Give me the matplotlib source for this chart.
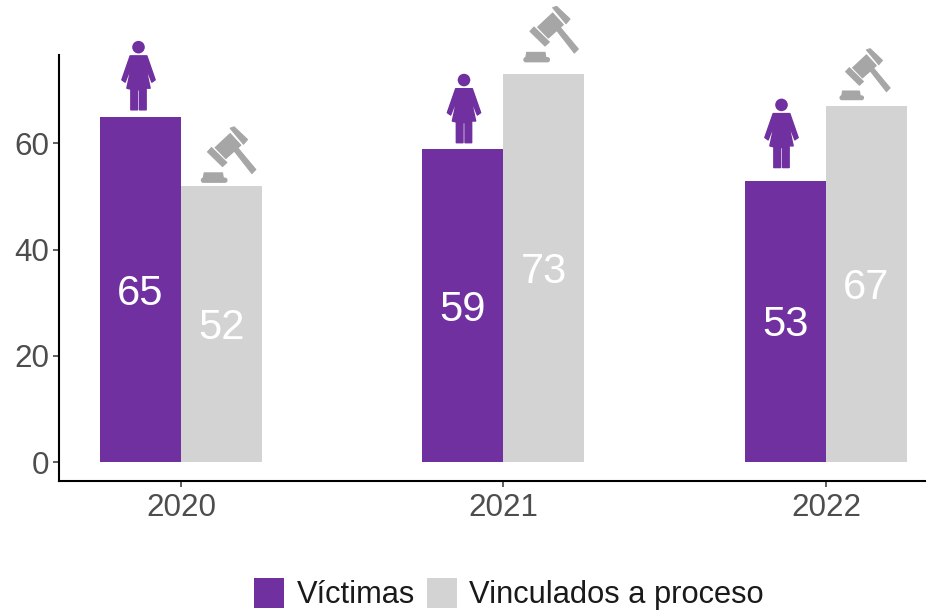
import matplotlib
matplotlib.use("Agg")
import matplotlib.pyplot as plt
from matplotlib.patches import Polygon, Circle, FancyBboxPatch, Patch
from matplotlib.transforms import Affine2D

plt.rcParams["font.family"] = ["Liberation Sans", "DejaVu Sans"]

years = [2020, 2021, 2022]
victimas = [65, 59, 53]
vinculados = [52, 73, 67]

MORADO = "#7030A0"
GRIS = "#D3D3D3"
GRIS_ICONO = "#A6A6A6"
TEXTO = "#4D4D4D"

W, H = 939, 610
fig = plt.figure(figsize=(W / 100, H / 100), dpi=100)
ax = fig.add_axes([59 / W, 1 - 481 / H, (925 - 59) / W, (481 - 55) / H])

px_x = 322.5   # pixeles por anio
px_y = 5.31    # pixeles por unidad
ancho = 81 / px_x

ax.bar([y - ancho / 2 for y in years], victimas, ancho, color=MORADO)
ax.bar([y + ancho / 2 for y in years], vinculados, ancho, color=GRIS)

ax.set_xlim(2020 - 122 / px_x, 2020 + (925 - 181) / px_x)
ax.set_ylim(-19 / px_y, 407 / px_y)

for y, a, b in zip(years, victimas, vinculados):
    ax.annotate(str(a), (y - ancho / 2, a / 2), xytext=(0, -3), textcoords="offset points",
                color="white", fontsize=30, ha="center", va="center")
    ax.annotate(str(b), (y + ancho / 2, b / 2), xytext=(0, -3), textcoords="offset points",
                color="white", fontsize=30, ha="center", va="center")


def icono_tr(x, v, dx, dy, esc=1.0):
    # coordenadas del icono en pixeles, ancladas a la parte alta de la barra
    return (Affine2D().scale(esc, esc).translate(dx, dy)
            .scale(1 / px_x, 1 / px_y).translate(x, v) + ax.transData)


def mujer(x, v, dx, dy):
    tr = icono_tr(x, v, dx, dy)
    cuerpo = [(120, 78), (170, 78), (195, 150), (185, 157), (165, 105), (180, 175),
              (168, 175), (168, 240), (148, 240), (148, 180), (142, 180), (142, 240),
              (122, 240), (122, 178), (110, 175), (125, 105), (105, 157), (95, 150)]
    pts = [((zx - 145) / 3, (240 - zy) / 3) for zx, zy in cuerpo]
    ax.add_patch(Polygon(pts, closed=True, fc=MORADO, ec=MORADO, lw=1, joinstyle="round",
                         transform=tr, clip_on=False))
    ax.add_patch(Circle((0, (240 - 52) / 3), 6.3, fc=MORADO, ec="none", transform=tr, clip_on=False))


def mazo(x, v, dx, dy, esc=1.0):
    tr = icono_tr(x, v, dx, dy, esc)
    conv = lambda p: [((zx - 392) / 3, (458 - zy) / 3) for zx, zy in p]
    partes = [
        [(430, 362), (440, 352), (495, 418), (483, 430)],   # mango
        [(373, 352), (418, 310), (450, 345), (405, 385)],   # cabeza
        [(350, 365), (362, 352), (408, 397), (395, 409)],
        [(418, 294), (430, 290), (470, 328), (458, 342)],
        [(340, 428), (395, 428), (398, 446), (337, 446)],   # base
    ]
    for p in partes:
        ax.add_patch(Polygon(conv(p), closed=True, fc=GRIS_ICONO, ec=GRIS_ICONO, lw=0.8,
                             joinstyle="round", transform=tr, clip_on=False))
    base = conv([(330, 458)])[0]
    ax.add_patch(FancyBboxPatch(base, 80 / 3, 16 / 3, boxstyle="round,pad=0,rounding_size=2.5",
                                fc=GRIS_ICONO, ec="none", transform=tr, clip_on=False, mutation_aspect=1))


mujer(years[0] - ancho / 2, victimas[0], -2, 7)
mujer(years[1] - ancho / 2, victimas[1], 1, 6)
mujer(years[2] - ancho / 2, victimas[2], -4, 13)
mazo(years[0] + ancho / 2, vinculados[0], 0, 3)
mazo(years[1] + ancho / 2, vinculados[1], 0, 12)
mazo(years[2] + ancho / 2, vinculados[2], -8, 6, 0.92)

ax.spines["top"].set_visible(False)
ax.spines["right"].set_visible(False)
ax.spines["left"].set_linewidth(1.5)
ax.spines["bottom"].set_linewidth(1.5)
ax.set_xticks(years)
ax.set_xticklabels([str(y) for y in years])
ax.set_yticks([0, 20, 40, 60])
ax.tick_params(axis="x", labelsize=22.6, labelcolor=TEXTO, color="#333333", length=4, width=1.1, pad=5)
ax.tick_params(axis="y", labelsize=22.6, labelcolor=TEXTO, color="#333333", length=4, width=1.1, pad=3)

handles = [Patch(fc=MORADO, label="Víctimas"), Patch(fc=GRIS, label="Vinculados a proceso")]
fig.legend(handles=handles, loc="center", bbox_to_anchor=(509 / W, 1 - 594 / H), ncol=2,
           frameon=False, fontsize=22.2, handlelength=0.97, handleheight=1.13, labelcolor="#1A1A1A",
           handletextpad=0.4, columnspacing=0.4, borderpad=0)

fig.savefig("out.png", dpi=100)
